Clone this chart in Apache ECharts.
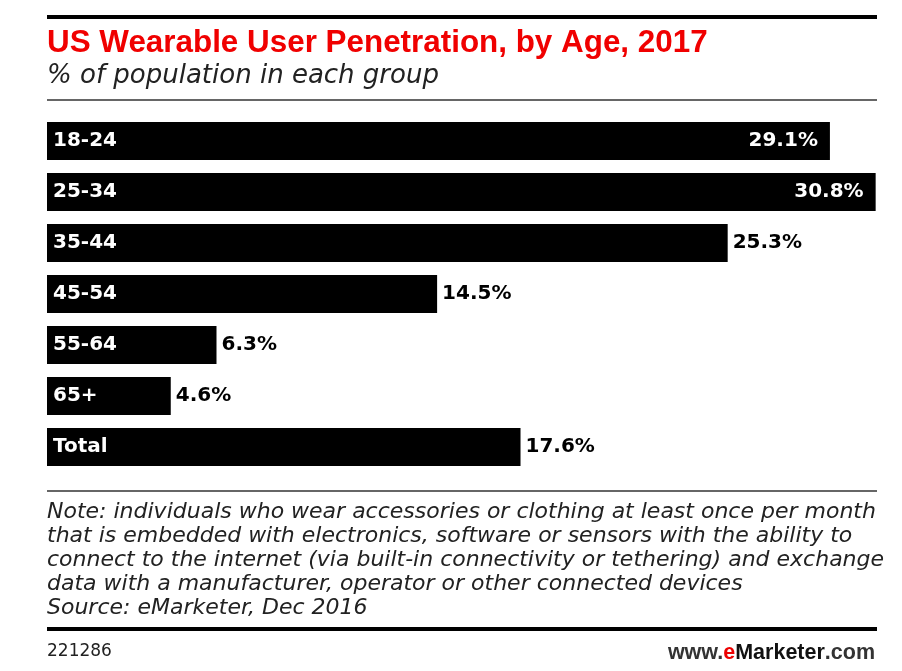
<!DOCTYPE html>
<html>
<head>
<meta charset="utf-8">
<script src="https://cdn.jsdelivr.net/npm/echarts@6/dist/echarts.min.js"></script>
<style>html,body{margin:0;padding:0;background:#fff}#c{width:902px;height:671px}</style>
</head>
<body>
<div id="c"></div>
<script>
var categories = ['18-24', '25-34', '35-44', '45-54', '55-64', '65+', 'Total'];
var values = [29.1, 30.8, 25.3, 14.5, 6.3, 4.6, 17.6];
var insideThreshold = 28;

var titleText = 'US Wearable User Penetration, by Age, 2017';
var subtitleText = '% of population in each group';
var noteLines = [
  'Note: individuals who wear accessories or clothing at least once per month',
  'that is embedded with electronics, software or sensors with the ability to',
  'connect to the internet (via built-in connectivity or tethering) and exchange',
  'data with a manufacturer, operator or other connected devices',
  'Source: eMarketer, Dec 2016'
];
var chartId = '221286';

var chart = echarts.init(document.getElementById('c'));
var data = values.map(function (v) {
  var inside = v >= insideThreshold;
  return {
    value: v,
    label: {
      position: inside ? 'insideRight' : 'right',
      color: inside ? '#fff' : '#000',
      distance: inside ? 12 : 5
    }
  };
});

chart.setOption({
  backgroundColor: '#fff',
  animation: false,
  title: [
    { text: titleText, left: 42, top: 23, textStyle: { fontFamily: 'Liberation Sans', fontWeight: 'bold', fontSize: 31.4, color: '#f00000' } },
    { text: subtitleText, left: 42, top: 58, textStyle: { fontFamily: 'DejaVu Sans', fontStyle: 'italic', fontWeight: 'normal', fontSize: 26, color: '#222' } },
    { text: noteLines.join('\n'), left: 42, top: 495, textStyle: { fontFamily: 'DejaVu Sans', fontStyle: 'italic', fontWeight: 'normal', fontSize: 22, lineHeight: 24, color: '#222' } },
    { text: chartId, left: 42, top: 638, textStyle: { fontFamily: 'DejaVu Sans', fontWeight: 'normal', fontSize: 17, color: '#222' } },
    { text: '{a|www.}{b|e}{c|Marketer}{a|.com}', right: 22, top: 637, textStyle: { rich: {
      a: { fontFamily: 'Liberation Sans', fontSize: 21.5, color: '#333' },
      b: { fontFamily: 'Liberation Sans', fontSize: 21.5, fontWeight: 'bold', color: '#ec0000' },
      c: { fontFamily: 'Liberation Sans', fontSize: 21.5, fontWeight: 'bold', color: '#111' }
    } } }
  ],
  graphic: [
    { type: 'rect', shape: { x: 47, y: 15, width: 830, height: 4 }, style: { fill: '#000' } },
    { type: 'rect', shape: { x: 47, y: 99, width: 830, height: 2 }, style: { fill: '#666' } },
    { type: 'rect', shape: { x: 47, y: 490, width: 830, height: 2 }, style: { fill: '#666' } },
    { type: 'rect', shape: { x: 47, y: 627, width: 830, height: 4 }, style: { fill: '#000' } }
  ],
  grid: { left: 47, right: 25, top: 115.5, height: 357, containLabel: false },
  xAxis: { type: 'value', min: 0, max: 30.85, show: false },
  yAxis: {
    type: 'category', data: categories, inverse: true, z: 10,
    axisLine: { show: false }, axisTick: { show: false }, splitLine: { show: false },
    axisLabel: { inside: true, margin: 6, color: '#fff', fontFamily: 'DejaVu Sans', fontWeight: 'bold', fontSize: 20 }
  },
  series: [{
    type: 'bar', data: data, barWidth: 38,
    itemStyle: { color: '#000' },
    label: { show: true, fontFamily: 'DejaVu Sans', fontWeight: 'bold', fontSize: 20, formatter: function (p) { return p.value.toFixed(1) + '%'; } }
  }]
});
</script>
</body>
</html>
